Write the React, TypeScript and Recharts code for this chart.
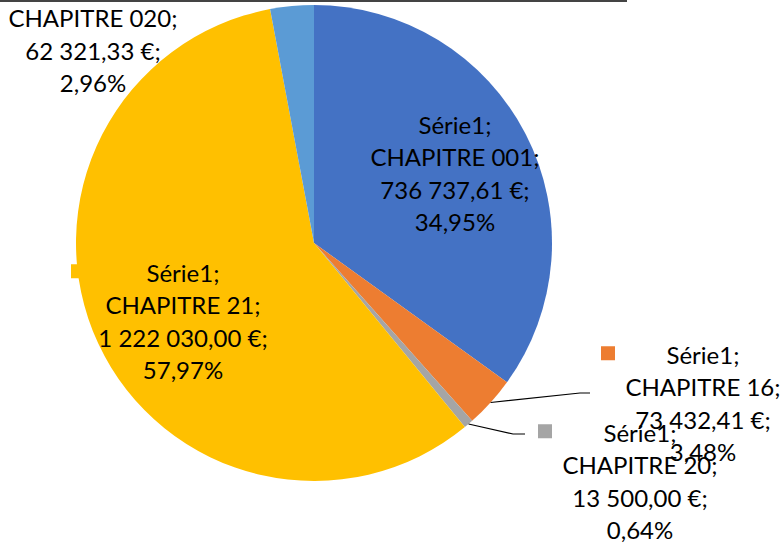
import { PieChart, Pie, Cell } from "recharts";

const categories = ["CHAPITRE 001", "CHAPITRE 16", "CHAPITRE 20", "CHAPITRE 21", "CHAPITRE 020"];
const values = [736737.61, 73432.41, 13500.0, 1222030.0, 62321.33];
const COLORS = ["#4472C4", "#ED7D31", "#A5A5A5", "#FFC000", "#5B9BD5"];
const SERIES = "Série1";

// label placement relative to pie centre (dx, dy = centre of text block)
const LABEL_POS = [
  { dx: 141, dy: -70, key: false, keyDx: 0, line: null },
  { dx: 389, dy: 160, key: true, keyDx: 0, line: [[266, 150], [276, 150]] },
  { dx: 326, dy: 238, key: true, keyDx: 0, line: [[199, 191], [211, 191]] },
  { dx: -131, dy: 78, key: true, keyDx: -10, line: null },
  { dx: -221, dy: -209, key: true, keyDx: 0, line: null },
];

const data = categories.map((name, i) => ({ name, value: values[i] }));
const total = values.reduce((a, b) => a + b, 0);

const fmtMoney = (v: number) => {
  const [int, dec] = v.toFixed(2).split(".");
  return int.replace(/\B(?=(\d{3})+(?!\d))/g, " ") + "," + dec + " €";
};
const fmtPct = (v: number) => ((v / total) * 100).toFixed(2).replace(".", ",") + "%";

const FONT = "Lato, 'Liberation Sans', sans-serif";
const FS = 24;
const LH = 32.5;

const RAD = Math.PI / 180;

const renderLabel = (props: any) => {
  const { cx, cy, midAngle, outerRadius, index, value } = props;
  const pos = LABEL_POS[index];
  const tx = cx + pos.dx;
  const ty = cy + pos.dy;
  const lines = [SERIES + ";", categories[index] + ";", fmtMoney(value) + ";", fmtPct(value)];
  const top = ty - (LH * lines.length) / 2 + LH / 2;
  const ex = cx + outerRadius * Math.cos(-midAngle * RAD);
  const ey = cy + outerRadius * Math.sin(-midAngle * RAD);
  return (
    <g key={`lbl-${index}`}>
      {pos.line && (
        <polyline
          points={[[ex, ey], ...pos.line.map(([x, y]) => [cx + x, cy + y])].map((p) => p.join(",")).join(" ")}
          fill="none"
          stroke="#000"
          strokeWidth={1.2}
        />
      )}
      {pos.key && (
        <rect x={tx - 37 - 51 - 14 + pos.keyDx} y={top - 8} width={14} height={14} fill={COLORS[index]} />
      )}
      <text textAnchor="middle" fontFamily={FONT} fontSize={FS} fill="#000">
        {lines.map((l, i) => (
          <tspan key={i} x={tx} y={top + i * LH} dominantBaseline="central">
            {l}
          </tspan>
        ))}
      </text>
    </g>
  );
};

export default function App() {
  return (
    <div style={{ position: "absolute", left: 0, top: 0, width: 783, height: 547, background: "#fff", overflow: "hidden" }}>
      <div style={{ position: "absolute", left: 0, top: 0, width: 627, height: 2, background: "#444" }} />
      <PieChart width={783} height={547} margin={{ top: 0, right: 0, bottom: 0, left: 0 }}>
        <Pie
          data={data}
          dataKey="value"
          nameKey="name"
          cx={314}
          cy={243}
          outerRadius={238}
          startAngle={90}
          endAngle={-270}
          stroke="none"
          labelLine={false}
          label={renderLabel}
          isAnimationActive={false}
        >
          {data.map((_, i) => (
            <Cell key={`cell-${i}`} fill={COLORS[i]} />
          ))}
        </Pie>
      </PieChart>
    </div>
  );
}
